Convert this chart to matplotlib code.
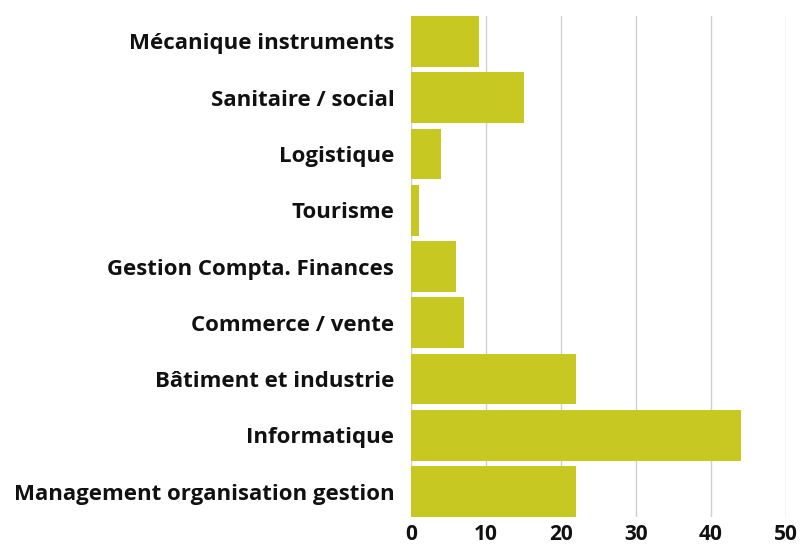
import matplotlib
matplotlib.use("Agg")
import matplotlib.pyplot as plt

categories = ["Mécanique instruments", "Sanitaire / social", "Logistique", "Tourisme",
              "Gestion Compta. Finances", "Commerce / vente", "Bâtiment et industrie",
              "Informatique", "Management organisation gestion"]
values = [9, 15, 4, 1, 6, 7, 22, 44, 22]
xticks = [0, 10, 20, 30, 40, 50]

plt.rcParams['font.family'] = ['Open Sans', 'DejaVu Sans']

fig = plt.figure(figsize=(8.02, 5.45), dpi=100)
ax = fig.add_axes([411/802, 28/545, 375/802, 501/545])

ypos = list(range(len(categories)))
bars = ax.barh(ypos, values, height=0.9, color="#C8C823", zorder=2)

ax.set_xlim(0, 50)
ax.set_ylim(len(categories) - 0.55, -0.45)
ax.set_yticks(ypos)
ax.set_yticklabels(categories, fontsize=16, fontweight='bold', color='#111111')
ax.set_xticks(xticks)
ax.set_xticklabels([str(t) for t in xticks], fontsize=15, fontweight='bold', color='#111111')
ax.tick_params(axis='both', length=0)
ax.tick_params(axis='y', pad=12)
ax.tick_params(axis='x', pad=5)
ax.grid(axis='x', color='#d0d0d0', linewidth=1, zorder=0)
for s in ax.spines.values():
    s.set_visible(False)

fig.savefig("out.png", dpi=100)
